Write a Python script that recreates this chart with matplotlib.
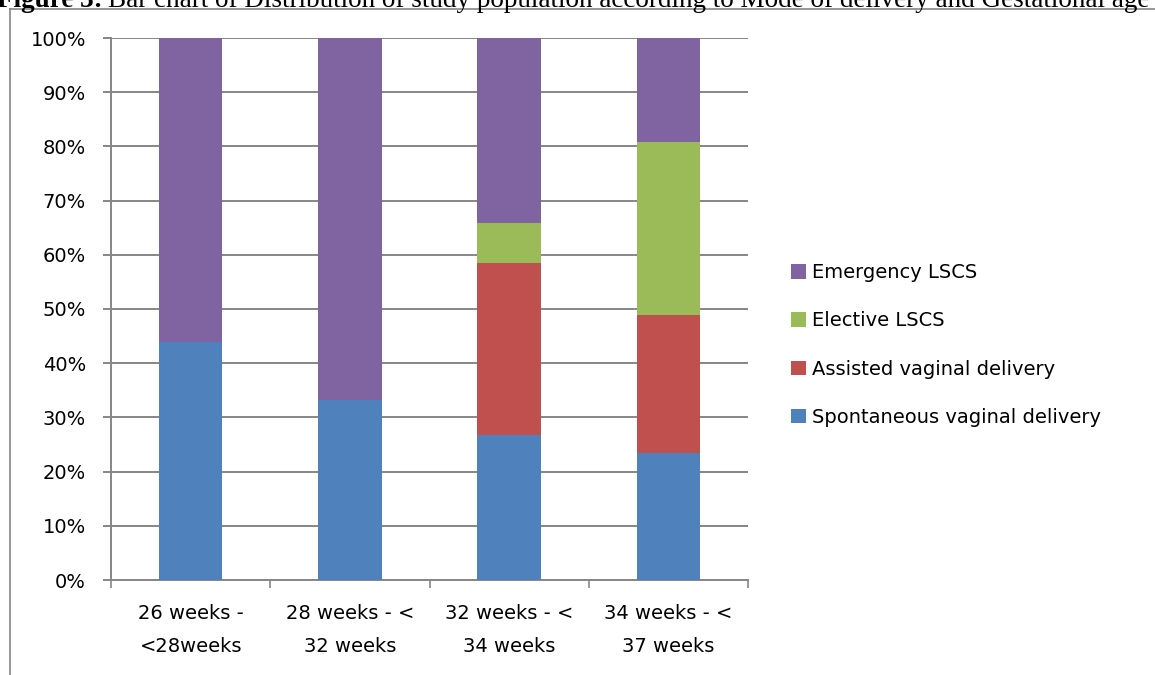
import matplotlib
matplotlib.use("Agg")
import matplotlib.pyplot as plt
from matplotlib.patches import Patch
from matplotlib.lines import Line2D
import numpy as np

categories = ["26 weeks -\n<28weeks", "28 weeks - <\n32 weeks",
              "32 weeks - <\n34 weeks", "34 weeks - <\n37 weeks"]
series_names = ["Spontaneous vaginal delivery", "Assisted vaginal delivery",
                "Elective LSCS", "Emergency LSCS"]
spontaneous = [44.0, 33.3, 26.8, 23.4]
assisted = [0.0, 0.0, 31.7, 25.5]
elective = [0.0, 0.0, 7.3, 31.9]
emergency = [56.0, 66.7, 34.2, 19.2]
colors = ["#4F81BD", "#C0504D", "#9BBB59", "#8064A2"]

plt.rcParams["font.family"] = ["DejaVu Sans"]
FS = 14

fig = plt.figure(figsize=(11.55, 6.75), dpi=100)
ax = fig.add_axes([111/1155, 95/675, (748-111)/1155, (580-38)/675])

x = np.arange(len(categories))
bottom = np.zeros(len(categories))
for vals, col, name in zip([spontaneous, assisted, elective, emergency], colors, series_names):
    vals = np.array(vals)
    ax.bar(x, vals, width=0.4, bottom=bottom, color=col, label=name, zorder=3)
    bottom += vals

ax.set_xlim(-0.5, len(categories) - 0.5)
ax.set_ylim(0, 100)
ax.set_yticks(np.arange(0, 101, 10))
ax.set_yticklabels([f"{v}%" for v in range(0, 101, 10)], fontsize=FS)
ax.yaxis.grid(True, color="#868686", linewidth=1.4, zorder=0)

# category boundary ticks along the x axis
ax.set_xticks(np.arange(-0.5, len(categories), 1.0))
ax.set_xticklabels([])
ax.tick_params(axis="x", length=6, width=1.2, color="#868686")
ax.tick_params(axis="y", length=6, width=1.4, color="#868686", pad=12)
for i, lab in enumerate(categories):
    ax.text(i, -4.5, lab, ha="center", va="top", fontsize=FS,
            linespacing=1.92, transform=ax.transData)

for s in ["top", "right"]:
    ax.spines[s].set_visible(False)
for s in ["left", "bottom"]:
    ax.spines[s].set_color("#868686")
    ax.spines[s].set_linewidth(1.4)

handles = [Patch(facecolor=c, edgecolor="none") for c in colors]
leg = fig.legend(handles[::-1], series_names[::-1], loc="center left",
                 bbox_to_anchor=(791/1155, 1 - 345/675), frameon=False,
                 fontsize=FS, handlelength=0.78, handleheight=0.78,
                 handletextpad=0.3, labelspacing=1.5,
                 borderpad=0, borderaxespad=0)

# chart frame
fy = 1 - 9/675
fig.add_artist(Line2D([10/1155, 10/1155], [0, fy], transform=fig.transFigure,
                      color="#868686", linewidth=1.2))
fig.add_artist(Line2D([10/1155, 1], [fy, fy], transform=fig.transFigure,
                      color="#868686", linewidth=1.2))

# caption above the chart
base = 1 - 7/675
bold = fig.text(-3/1155, base, "Figure 3:", fontsize=19.5, family="Liberation Serif",
                weight="bold", va="baseline", ha="left")
fig.canvas.draw()
bb = bold.get_window_extent()
fig.text((bb.x1 + 5) / 1155, base,
         "Bar chart of Distribution of study population according to Mode of delivery and Gestational age",
         fontsize=19.5, family="Liberation Serif", va="baseline", ha="left")

fig.savefig("out.png", dpi=100)
